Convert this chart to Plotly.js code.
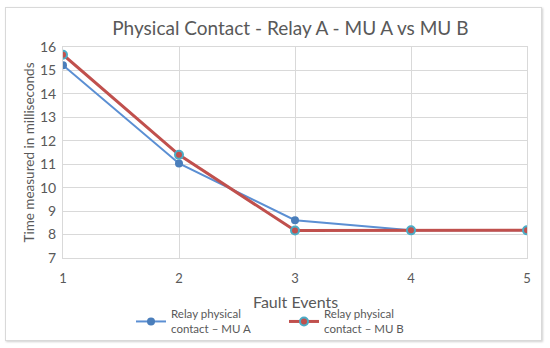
<!DOCTYPE html>
<html>
<head>
<meta charset="utf-8">
<script src="https://cdn.plot.ly/plotly-3.0.1.min.js"></script>
<style>
  html, body { margin: 0; padding: 0; background: #fff; }
  #chart { width: 550px; height: 348px; }
  #frame { position: absolute; left: 5px; top: 7px; width: 535px; height: 332px;
           border: 1px solid #d9d9d9; box-shadow: 1px 1px 2px #d0d0d0; pointer-events: none; }
</style>
</head>
<body>
<div id="chart"></div>
<div id="frame"></div>
<script>
const faultEvents = [1, 2, 3, 4, 5];
const muA = [15.22, 11.03, 8.61, 8.18, 8.18];
const muB = [15.67, 11.40, 8.17, 8.18, 8.18];
const seriesNames = ["Relay physical<br>contact – MU A", "Relay physical<br>contact – MU B"];
const yTicks = [7, 8, 9, 10, 11, 12, 13, 14, 15, 16];
const xTitle = "Fault Events";

const txt = "#595959";
const grid = "#d9d9d9";

const traces = [
  {
    x: faultEvents, y: muA, name: seriesNames[0], type: "scatter", mode: "lines+markers",
    line: { color: "#5b8fd3", width: 2 },
    marker: { color: "#4a7ebb", size: 8, symbol: "circle", line: { width: 0 } }
  },
  {
    x: faultEvents, y: muB, name: seriesNames[1], type: "scatter", mode: "lines+markers",
    line: { color: "#c0504d", width: 3 },
    marker: { color: "#c0504d", size: 8, symbol: "circle", line: { color: "#4bacc6", width: 2 } }
  }
];

const layout = {
  width: 550, height: 348,
  margin: { l: 63, r: 23, t: 47, b: 90, autoexpand: false },
  paper_bgcolor: "#fff", plot_bgcolor: "#fff",
  font: { family: "Lato, Carlito, sans-serif", color: txt },
  title: {
    text: "Physical Contact - Relay A - MU A vs MU B",
    font: { family: "Lato, sans-serif", size: 19, color: txt },
    x: 0.49, xref: "paper", xanchor: "center",
    y: 1 - 28 / 348, yref: "container", yanchor: "middle"
  },
  xaxis: {
    range: [1, 5], tickvals: faultEvents, ticktext: faultEvents.map(String),
    showgrid: true, gridcolor: grid, gridwidth: 1, automargin: false,
    showline: true, linecolor: grid, mirror: true, zeroline: false,
    ticks: "outside", ticklen: 8, tickcolor: "rgba(0,0,0,0)",
    tickfont: { size: 13, color: txt }
  },
  yaxis: {
    range: [7, 16], tickvals: yTicks,
    showgrid: true, gridcolor: grid, gridwidth: 1, automargin: true,
    showline: true, linecolor: grid, mirror: true, zeroline: false,
    ticks: "", ticklabelstandoff: 3,
    tickfont: { size: 14, color: txt },
    title: { text: "Time measured in milliseconds", font: { size: 13.5, color: txt }, standoff: 2 }
  },
  annotations: [
    {
      text: xTitle, showarrow: false,
      xref: "paper", x: 0.5, xanchor: "center",
      yref: "paper", y: -(301 - 258) / 211, yanchor: "middle",
      font: { size: 16, color: txt }
    }
  ],
  showlegend: true,
  legend: {
    orientation: "h", x: 131 / 550, xref: "container", xanchor: "left",
    y: 1 - 300 / 348, yref: "container", yanchor: "top",
    font: { size: 11.5, color: txt }, traceorder: "normal",
    itemwidth: 30, entrywidth: 108, bgcolor: "rgba(0,0,0,0)"
  }
};

Plotly.newPlot("chart", traces, layout, { displayModeBar: false, staticPlot: true });
</script>
</body>
</html>
